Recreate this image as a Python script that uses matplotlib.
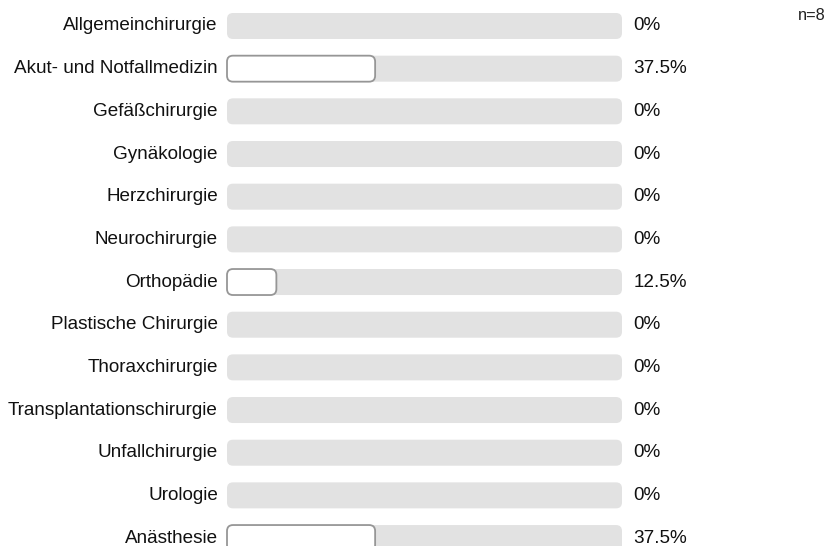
import matplotlib.pyplot as plt
from matplotlib.patches import FancyBboxPatch

categories = [
    "Allgemeinchirurgie", "Akut- und Notfallmedizin", "Gefäßchirurgie", "Gynäkologie",
    "Herzchirurgie", "Neurochirurgie", "Orthopädie", "Plastische Chirurgie",
    "Thoraxchirurgie", "Transplantationschirurgie", "Unfallchirurgie", "Urologie", "Anästhesie",
]
values = [0, 37.5, 0, 0, 0, 0, 12.5, 0, 0, 0, 0, 0, 37.5]
value_labels = ["0%", "37.5%", "0%", "0%", "0%", "0%", "12.5%", "0%", "0%", "0%", "0%", "0%", "37.5%"]
n_label = "n=8"

plt.rcParams["font.family"] = ["Liberation Sans", "DejaVu Sans"]

W, H = 827, 546
fig = plt.figure(figsize=(W / 100, H / 100), dpi=100)
x0, x1 = 227, 622
ax = fig.add_axes([x0 / W, 0, (x1 - x0) / W, 1])
step = 42.67
first = 26
ax.set_xlim(0, 100)
ax.set_ylim(12 + (H - (first + 12 * step)) / step, -first / step)
ax.axis("off")

px_x = (x1 - x0) / 100
aspect = px_x / step
bar_h = 26 / step
r = 6 / px_x

for i, (cat, v, lab) in enumerate(zip(categories, values, value_labels)):
    track = FancyBboxPatch((0, i - bar_h / 2), 100, bar_h,
                           boxstyle=f"round,pad=0,rounding_size={r}",
                           mutation_aspect=aspect, facecolor="#e2e2e2",
                           edgecolor="none", clip_on=False)
    ax.add_patch(track)
    if v > 0:
        bar = FancyBboxPatch((0, i - bar_h / 2), v, bar_h,
                             boxstyle=f"round,pad=0,rounding_size={r}",
                             mutation_aspect=aspect, facecolor="white",
                             edgecolor="#969696", linewidth=1.3, clip_on=False)
        ax.add_patch(bar)
    ax.text(-2.3, i, cat, ha="right", va="center", fontsize=13.6, color="#111111")
    ax.text(2.9 + 100, i, lab, ha="left", va="center", fontsize=13.6, color="#111111")

fig.text(798 / W, 1 - 15 / H, n_label, ha="left", va="center", fontsize=11.8, color="#222222")

fig.savefig("out.png", dpi=100)
